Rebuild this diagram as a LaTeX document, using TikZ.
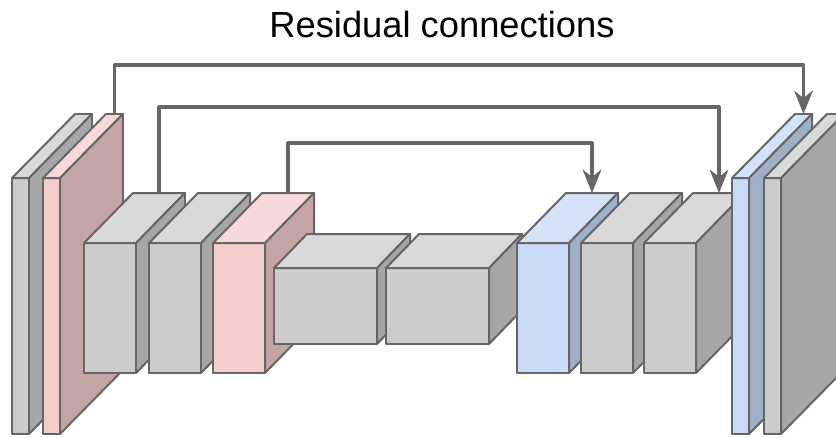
\documentclass[tikz,border=0pt]{standalone}
\usepackage{fontspec}
\setmainfont{Liberation Sans}
\usetikzlibrary{arrows.meta}
\definecolor{ln}{HTML}{666666}
\definecolor{gF}{HTML}{CCCCCC}
\definecolor{gT}{HTML}{D9D9D9}
\definecolor{gS}{HTML}{A6A6A6}
\definecolor{rF}{HTML}{F4CCCC}
\definecolor{rT}{HTML}{F7D9D9}
\definecolor{rS}{HTML}{C4A4A4}
\definecolor{bF}{HTML}{C9DAF8}
\definecolor{bT}{HTML}{D5E2F9}
\definecolor{bS}{HTML}{A0AFC8}
\tikzset{
  face/.style={draw=ln, line width=1.7pt, line join=round},
  resid/.style={draw=ln, line width=2.6pt, line join=round, -{Stealth[length=7mm,width=5.6mm,inset=2.2mm]}},
  ttl/.style={font=\fontsize{31}{36}\selectfont, anchor=base},
}
% layer: name, x, y (top of front face), w, h, dx, dy, colour prefix
\newcommand{\layer}[8]{%
  \filldraw[face, fill=#8F] (#2,#3) rectangle ++(#4,#5);
  \filldraw[face, fill=#8T] (#2,#3) -- ++(#6,-#7) -- ++(#4,0) -- ++(-#6,#7) -- cycle;
  \filldraw[face, fill=#8S] (#2+#4,#3) -- ++(#6,-#7) -- ++(0,#5) -- ++(-#6,#7) -- cycle;
  \coordinate (#1) at (#2+#4/2+#6,#3-#7);
}
\newcommand{\slablayer}[3]{\layer{#1}{#2}{178}{17}{256}{63}{64}{#3}}
\newcommand{\boxlayer}[3]{\layer{#1}{#2}{243}{52}{130}{49}{50}{#3}}
\newcommand{\widelayer}[3]{\layer{#1}{#2}{268}{103}{76}{33}{34}{#3}}

\begin{document}
\begin{tikzpicture}[x=0.3mm,y=-0.3mm]
  \clip (0,0) rectangle (836,437);
  \node[ttl] (title) at (442,37) {Residual connections};
  % encoder
  \slablayer{s1}{12}{g}
  \slablayer{s2}{43}{r}
  \boxlayer{e1}{84}{g}
  \boxlayer{e2}{149}{g}
  \boxlayer{e3}{213}{r}
  % middle
  \widelayer{m1}{274}{g}
  \widelayer{m2}{386}{g}
  % decoder
  \boxlayer{d1}{517}{b}
  \boxlayer{d2}{581}{g}
  \boxlayer{d3}{644}{g}
  \slablayer{s3}{732}{b}
  \slablayer{s4}{764}{g}
  % skips
  \draw[resid] (s2) -- ++(0,-49) -| (s3);
  \draw[resid] (e1) -- ++(0,-86) -| (d3);
  \draw[resid] (e3) -- ++(0,-50) -| (d1);
\end{tikzpicture}
\end{document}
